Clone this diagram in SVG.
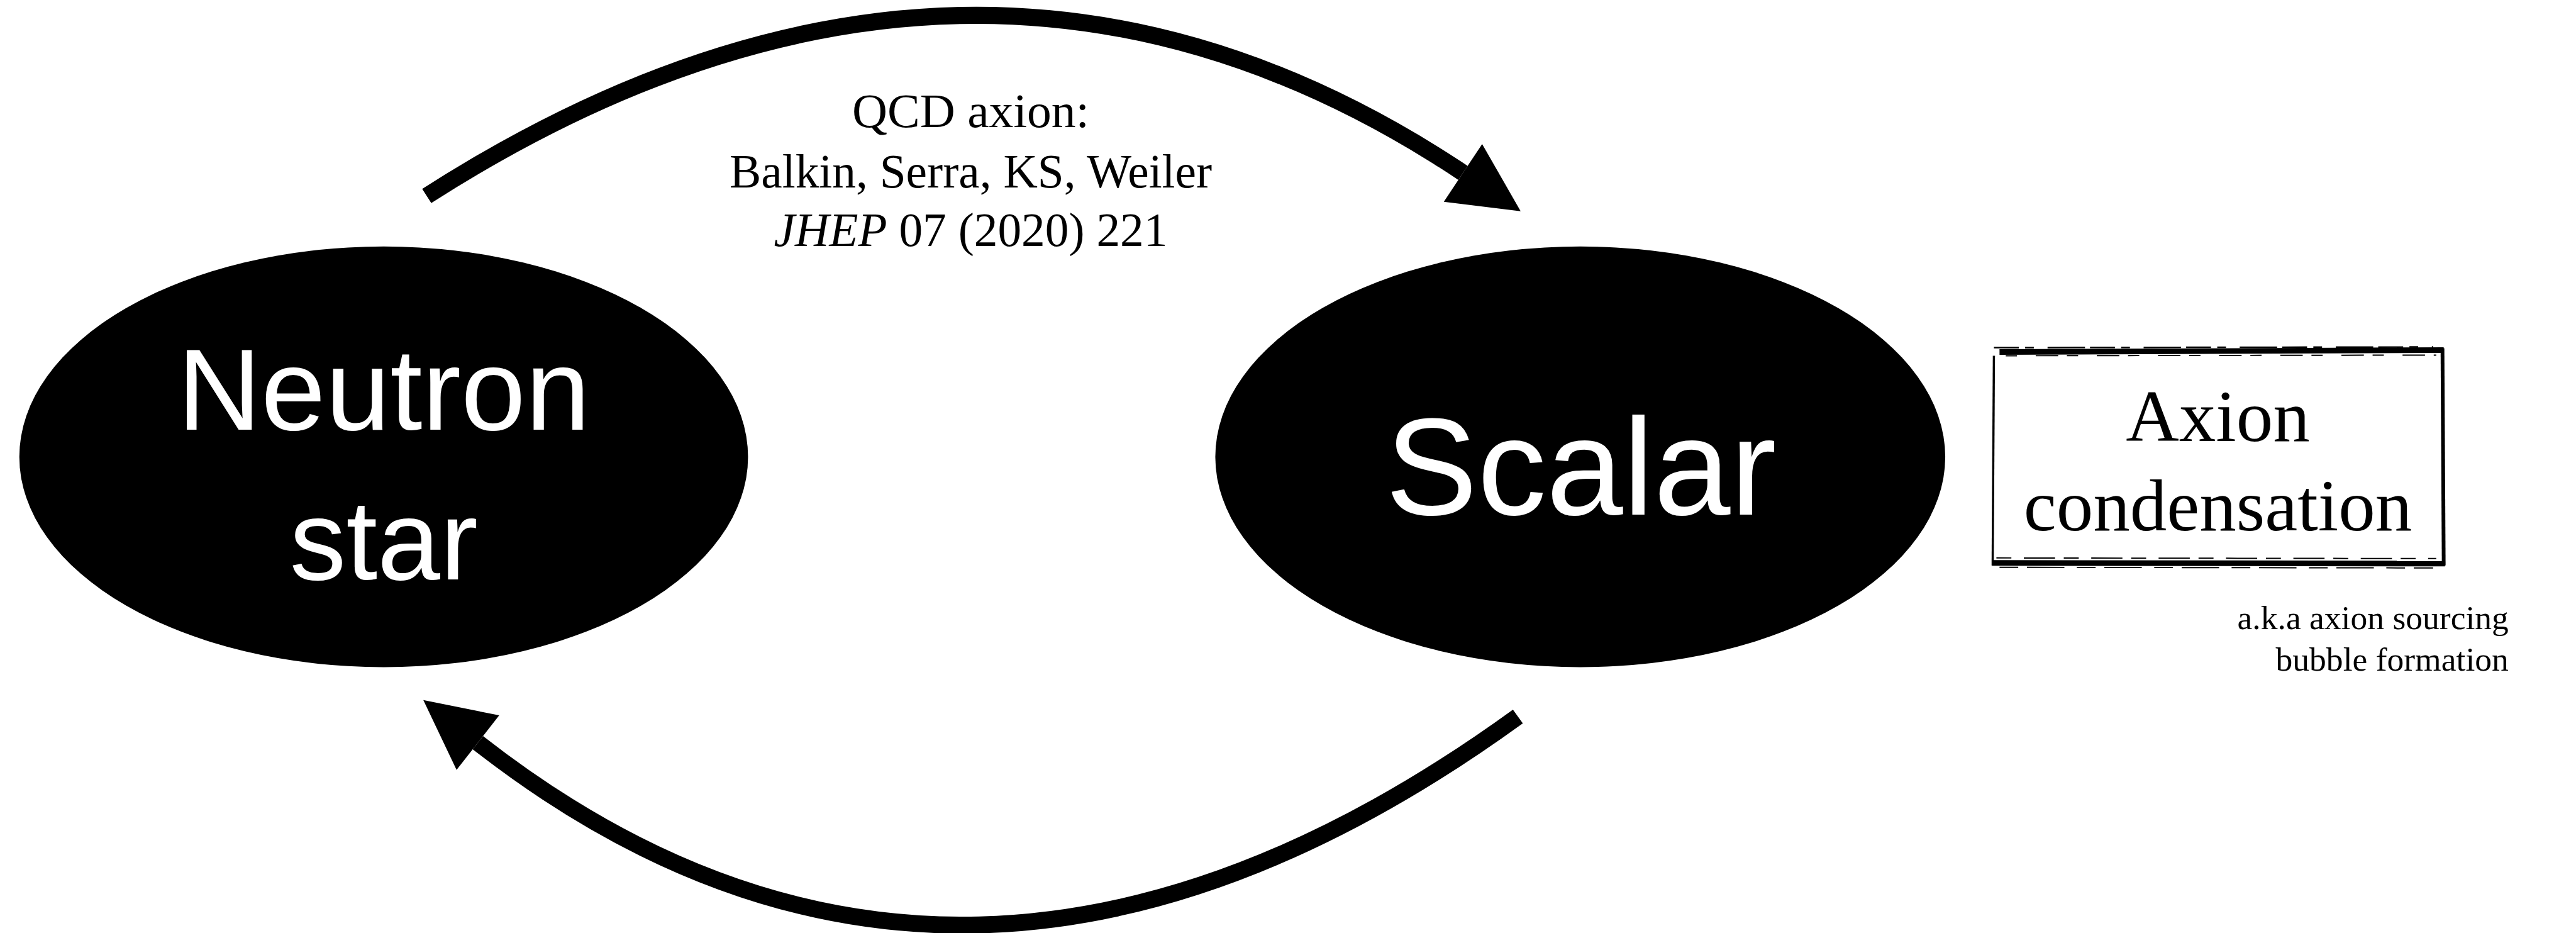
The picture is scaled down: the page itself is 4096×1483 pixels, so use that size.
<svg xmlns="http://www.w3.org/2000/svg" width="4096" height="1483" viewBox="0 0 4096 1483">
<style>
.node{fill:#000}
.sans{font-family:"Liberation Sans",Arial,sans-serif;fill:#fff;text-anchor:middle}
.serif{font-family:"Liberation Serif","Times New Roman",serif;fill:#000}
.conn{fill:none;stroke:#000;stroke-width:27;stroke-linecap:butt}
.frame{fill:none;stroke:#000;stroke-linecap:butt}
</style>
<defs>
<marker id="ah" markerUnits="userSpaceOnUse" viewBox="0 -56 112 112" markerWidth="112" markerHeight="112" refX="0" refY="0" orient="auto" overflow="visible">
<path d="M0,-55.5 L111,0 L0,55.5 Z" fill="#000"/>
</marker>
</defs>
<rect x="0" y="0" width="4096" height="1483" fill="#fff"/>
<g transform="scale(0.992)">
<g id="connectors">
<path class="conn" d="M684,314 Q1558.8,-245.8 2345,277" marker-end="url(#ah)"/>
<path class="conn" d="M2433,1148 Q1540,1795 766,1190" marker-end="url(#ah)"/>
<g id="label-qcd" class="serif" text-anchor="middle" font-size="76">
<text x="1556" y="204" textLength="380" lengthAdjust="spacingAndGlyphs">QCD axion:</text>
<text x="1556" y="300">Balkin, Serra, KS, Weiler</text>
<text x="1556" y="394"><tspan font-style="italic">JHEP</tspan> 07 (2020) 221</text>
</g>
</g>
<g id="node-neutron-star">
<ellipse class="node" cx="615" cy="732" rx="584" ry="337"/>
<text class="sans" x="615" y="689" font-size="186">Neutron</text>
<text class="sans" x="615" y="928" font-size="181">star</text>
</g>
<g id="node-scalar">
<ellipse class="node" cx="2533" cy="732" rx="585" ry="337"/>
<text class="sans" x="2534" y="825" font-size="221">Scalar</text>
</g>
<g id="node-axion-condensation">
<path class="frame" stroke-width="9" d="M3205,564 L3917,561"/>
<path class="frame" stroke-width="2.5" stroke-dasharray="40 10 14 22 60 8" d="M3196,557 L3900,556"/>
<path class="frame" stroke-width="2" stroke-dasharray="18 30 36 14" d="M3215,570 L3905,569"/>
<path class="frame" stroke-width="6" d="M3915,558 L3917,906"/>
<path class="frame" stroke-width="9" d="M3193,902 L3919,903"/>
<path class="frame" stroke-width="2" stroke-dasharray="24 20 50 14" d="M3200,894 L3905,895"/>
<path class="frame" stroke-width="2" stroke-dasharray="30 14 60 20" d="M3205,909 L3900,910"/>
<path class="frame" stroke-width="3.5" d="M3196,570 L3194,906"/>
<text class="serif" x="3555" y="707" font-size="118" text-anchor="middle">Axion</text>
<text class="serif" x="3555" y="850" font-size="118" text-anchor="middle">condensation</text>
</g>
<g id="note-axion-condensation" class="serif" font-size="54" text-anchor="end">
<text x="4021" y="1008">a.k.a axion sourcing</text>
<text x="4021" y="1075">bubble formation</text>
</g>
</g>
</svg>
